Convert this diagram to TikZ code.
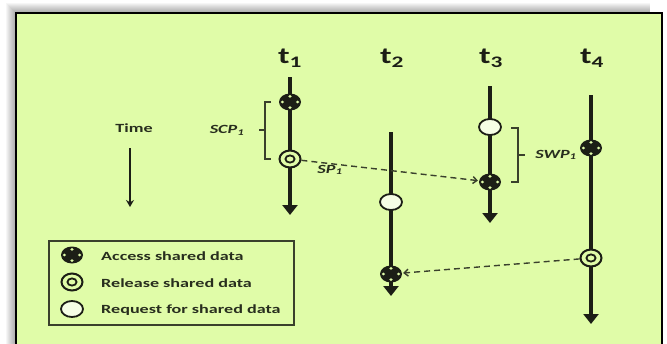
\documentclass[tikz,border=0pt]{standalone}
\usepackage{fontspec}
\newfontfamily\lbl[FakeStretch=1.45]{Carlito}
\usetikzlibrary{arrows.meta,shapes.geometric}
\definecolor{paper}{RGB}{224,252,168}
\definecolor{ink}{RGB}{28,30,22}
\definecolor{soft}{RGB}{58,64,44}
\definecolor{word}{RGB}{40,46,30}
\begin{document}
\begin{tikzpicture}[x=1pt,y=-1pt,
  thread/.style={line width=4pt, draw=ink, -{Triangle[width=15pt,length=10pt]}},
  access/.style={ellipse, fill=ink, minimum width=22pt, minimum height=17pt, inner sep=0pt,
    path picture={\foreach \dx/\dy in {0/-5.6,0/5.6,-7.6/0,7.6/0}
      \fill[paper] ([shift={(\dx,\dy)}]path picture bounding box.center) ellipse (1.7 and 1.4);}},
  release/.style={ellipse, draw=ink, line width=2pt, fill=paper, minimum width=21pt,
    minimum height=17pt, inner sep=0pt,
    path picture={\draw[ink, line width=1.8pt] (path picture bounding box.center) ellipse (4.6 and 3.6);}},
  request/.style={ellipse, draw=ink, line width=1.8pt, fill=white!70!paper,
    minimum width=22pt, minimum height=16pt, inner sep=0pt},
  msg/.style={draw=soft, line width=1.4pt, dash pattern=on 6pt off 4pt,
    -{Straight Barb[length=4pt,width=7pt]}, shorten >=1pt},
  brace/.style={draw=soft, line width=1.2pt},
  tlabel/.style={font=\lbl\bfseries\fontsize{23}{25}\selectfont, text=ink, inner sep=0pt},
  txt/.style={font=\lbl\bfseries\fontsize{12.5}{14}\selectfont, text=word, inner sep=0pt},
  itl/.style={font=\lbl\bfseries\itshape\fontsize{12.5}{14}\selectfont, text=word, inner sep=0pt}
]
\useasboundingbox (0,0) rectangle (667,343);
\clip (0,0) rectangle (667,343);
\fill[white] (0,0) rectangle (667,343);

% soft shadow on the left and top of the frame
\foreach \k in {1,...,10}
  \fill[black, opacity=0.035] (16-\k,13-\k) rectangle (650,360);

% frame
\draw[black, line width=2pt, fill=paper] (16,13) rectangle (662,360);

% thread titles
\node[tlabel] (h1) at (290,58) {t\textsubscript{1}};
\node[tlabel] (h2) at (392,58) {t\textsubscript{2}};
\node[tlabel] (h3) at (491,58) {t\textsubscript{3}};
\node[tlabel] (h4) at (592,58) {t\textsubscript{4}};

% time lines
\coordinate (s1) at (290,77);  \coordinate (e1) at (290,215);
\coordinate (s2) at (391,132); \coordinate (e2) at (391,296);
\coordinate (s3) at (490,86);  \coordinate (e3) at (490,223);
\coordinate (s4) at (591,95);  \coordinate (e4) at (591,324);
\draw[thread] (s1) -- (e1);
\draw[thread] (s2) -- (e2);
\draw[thread] (s3) -- (e3);
\draw[thread] (s4) -- (e4);

% events
\node[access]  (a1) at (290,102) {};
\node[release] (r1) at (290,159) {};
\node[request] (q2) at (391,202) {};
\node[access]  (a2) at (391,274) {};
\node[request] (q3) at (490,127) {};
\node[access]  (a3) at (490,182) {};
\node[access]  (a4) at (591,148) {};
\node[release] (r4) at (591,258) {};

% messages between threads
\draw[msg] (r1) -- (a3);
\draw[msg] (r4) -- (a2);
\node[itl] (sp) at (330,170) {SP\textsubscript{1}};

% brackets
\draw[brace] (271,102) -- (265,102) -- (265,159) -- (271,159);
\draw[brace] (265,130) -- (259,130);
\node[itl] (scp) at (227,130) {SCP\textsubscript{1}};
\draw[brace] (511,128) -- (518,128) -- (518,182) -- (511,182);
\draw[brace] (518,155) -- (525,155);
\node[itl] (swp) at (556,155) {SWP\textsubscript{1}};

% time axis
\node[txt] (time) at (134,128) {Time};
\coordinate (ts) at (130,148);
\coordinate (te) at (130,207);
\draw[ink, line width=1.6pt, -{Stealth[length=7pt,width=8pt]}] (ts) -- (te);

% legend
\node[draw=soft, line width=1.6pt, minimum width=245pt, minimum height=84pt, inner sep=0pt]
  (legend) at (171.5,283) {};
\node[access]  (la) at (72,255) {};
\node[release] (lr) at (72,282) {};
\node[request] (lq) at (72,309) {};
\node[txt, anchor=west] (ta) at (101,256) {Access shared data};
\node[txt, anchor=west] (tr) at (101,283) {Release shared data};
\node[txt, anchor=west] (tq) at (101,310) {Request for shared data};
\end{tikzpicture}
\end{document}
